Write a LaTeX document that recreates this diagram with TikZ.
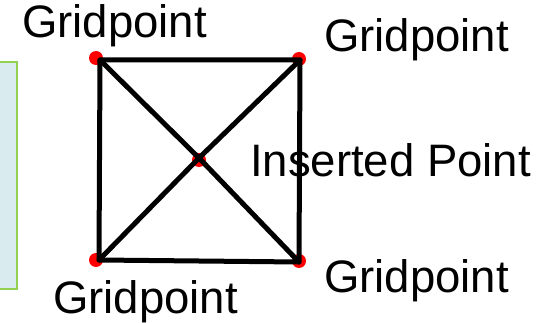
\documentclass[tikz,border=0pt]{standalone}
\usepackage{fontspec}
\setmainfont{Liberation Sans}
\definecolor{boxfill}{HTML}{DAEBF0}
\definecolor{boxline}{HTML}{92D050}
\begin{document}
\begin{tikzpicture}[x=1pt,y=-1pt,
  dot/.style={circle,fill=red,inner sep=0pt,minimum size=14pt},
  edge/.style={line width=5pt,black,line cap=round,line join=round},
  lbl/.style={anchor=base west,inner sep=0pt,font=\fontsize{45.5}{50}\selectfont}]
\useasboundingbox (0,0) rectangle (546,323);
\fill[white] (0,0) rectangle (546,323);
\node[draw=boxline,fill=boxfill,line width=1.2pt,minimum width=22pt,minimum height=227pt,inner sep=0pt] (side) at (6,175.5) {};
% grid points
\coordinate (tl) at (100,60);
\coordinate (tr) at (300,60);
\coordinate (br) at (299,262);
\coordinate (bl) at (99,260);
\coordinate (c) at (199,158);
\node[dot] (dtl) at (96,58) {};
\node[dot] (dtr) at (299,59) {};
\node[dot] (dbr) at (299,261) {};
\node[dot] (dbl) at (96,260) {};
\node[dot] (dc) at (199,160) {};
\draw[edge] (tl) -- (tr) -- (br) -- (bl) -- cycle;
\draw[edge] (tl) -- (c) -- (br);
\draw[edge] (bl) -- (c) -- (tr);
% labels
\node[lbl] (l1) at (22,38) {Gridpoint};
\node[lbl] (l2) at (324,52) {Gridpoint};
\node[lbl] (l3) at (250,177) {Inserted Point};
\node[lbl] (l4) at (53,313) {Gridpoint};
\node[lbl] (l5) at (324,292) {Gridpoint};
\end{tikzpicture}
\end{document}
